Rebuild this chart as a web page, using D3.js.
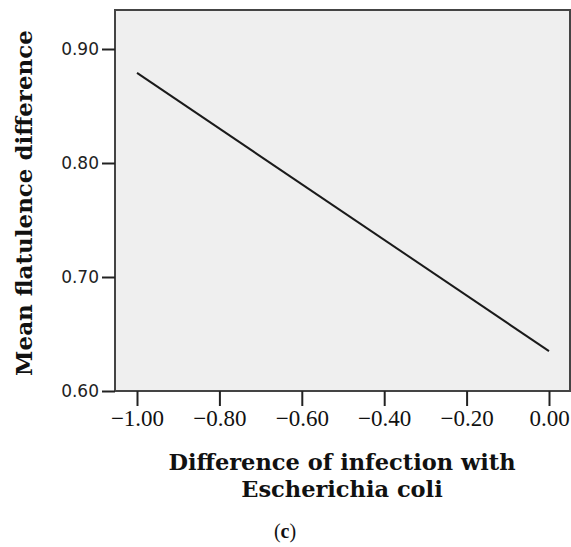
<!DOCTYPE html>
<html>
<head>
<meta charset="utf-8">
<script src="https://cdn.jsdelivr.net/npm/d3@7"></script>
<style>
  body { margin: 0; background: #fff; }
  svg { display: block; }
</style>
</head>
<body>
<div id="chart"></div>
<script>
// Fitted line
var lineX = [-1.00, 0.00];
var lineY = [0.879, 0.635];
var xTicks = [-1.00, -0.80, -0.60, -0.40, -0.20, 0.00];
var yTicks = [0.60, 0.70, 0.80, 0.90];

var W = 571, H = 547;
var box = {left: 115, top: 10, right: 570, bottom: 391};

var xScale = d3.scaleLinear().domain([-1, 0]).range([137, 549]);
var yScale = d3.scaleLinear().domain([0.60, 0.90]).range([391, 49]);

var svg = d3.select("#chart").append("svg")
    .attr("width", W)
    .attr("height", H);

// plot area
svg.append("rect")
    .attr("x", box.left)
    .attr("y", box.top)
    .attr("width", box.right - box.left)
    .attr("height", box.bottom - box.top)
    .attr("fill", "#efefef")
    .attr("stroke", "#444")
    .attr("stroke-width", 2);

var fmt = function (d) { return d3.format(".2f")(d).replace("-", "\u2212"); };

// y axis
var yAxis = svg.append("g")
    .attr("transform", "translate(" + box.left + ",0)")
    .call(d3.axisLeft(yScale).tickValues(yTicks).tickSize(13).tickPadding(3).tickFormat(d3.format(".2f")));
yAxis.select(".domain").remove();
yAxis.selectAll(".tick line").attr("stroke", "#222").attr("stroke-width", 2);
yAxis.selectAll(".tick text")
    .attr("fill", "#222")
    .style("font-family", "'DejaVu Sans', Verdana, sans-serif")
    .style("font-size", "17px");

// x axis
var xAxis = svg.append("g")
    .attr("transform", "translate(0," + box.bottom + ")")
    .call(d3.axisBottom(xScale).tickValues(xTicks).tickSize(15).tickPadding(4).tickFormat(fmt));
xAxis.select(".domain").remove();
xAxis.selectAll(".tick line").attr("stroke", "#222").attr("stroke-width", 2);
xAxis.selectAll(".tick text")
    .attr("fill", "#111")
    .style("font-family", "'Liberation Serif', 'Times New Roman', serif")
    .style("font-size", "23px");

// the line
var pts = lineX.map(function (x, i) { return {x: x, y: lineY[i]}; });
svg.append("path")
    .datum(pts)
    .attr("d", d3.line().x(function (d) { return xScale(d.x); }).y(function (d) { return yScale(d.y); }))
    .attr("fill", "none")
    .attr("stroke", "#1a1a1a")
    .attr("stroke-width", 2);

// axis titles
var titleFont = "'DejaVu Serif', Georgia, serif";
svg.append("text")
    .attr("transform", "translate(32,203) rotate(-90)")
    .attr("text-anchor", "middle")
    .style("font-family", titleFont)
    .style("font-weight", "bold")
    .style("font-size", "23px")
    .attr("fill", "#111")
    .text("Mean flatulence difference");

// x title, two separate lines
var xTitle = ["Difference of infection with", "Escherichia coli"];
svg.selectAll(".x-title")
    .data(xTitle)
    .enter().append("text")
    .attr("class", "x-title")
    .attr("x", 342)
    .attr("y", function (d, i) { return 470 + i * 27; })
    .attr("text-anchor", "middle")
    .style("font-family", titleFont)
    .style("font-weight", "bold")
    .style("font-size", "22.5px")
    .attr("fill", "#111")
    .text(function (d) { return d; });

svg.append("text")
    .attr("x", 285)
    .attr("y", 538)
    .attr("text-anchor", "middle")
    .style("font-family", "'Liberation Serif', 'Times New Roman', serif")
    .style("font-size", "20px")
    .attr("fill", "#111")
    .html("(<tspan font-weight='bold'>c</tspan>)");
</script>
</body>
</html>
